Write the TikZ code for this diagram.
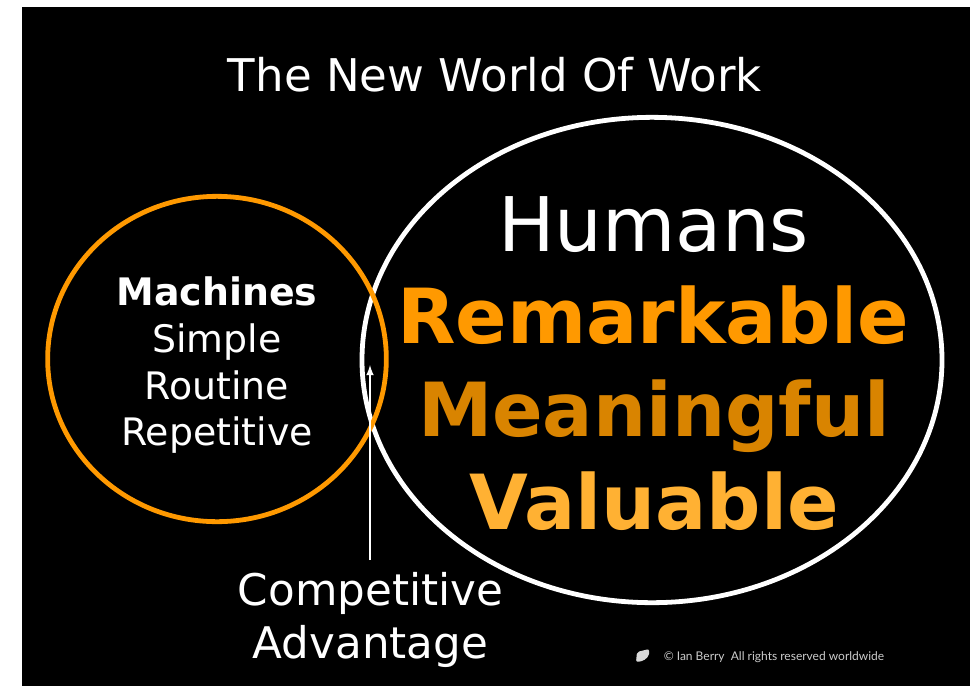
\documentclass[tikz,border=0pt]{standalone}
\usepackage{fontspec}
\setmainfont{DejaVu Sans}
\newfontfamily\noticefont{Lato}
\usetikzlibrary{shapes.geometric}
\definecolor{orangeA}{HTML}{FF9900}
\definecolor{orangeB}{HTML}{D98400}
\definecolor{orangeC}{HTML}{FFB133}
\tikzset{
	word/.style={text=white, inner sep=0pt, anchor=base},
	big/.style={font=\fontsize{57}{57}\selectfont\bfseries, inner sep=0pt, anchor=base},
	small/.style={word, font=\fontsize{28.4}{28.4}\selectfont},
	rim/.style={draw, line width=3.6pt, ellipse, inner sep=0pt, minimum width=#1}
}

\begin{document}
\begin{tikzpicture}[x=0.75pt, y=-0.75pt]
\useasboundingbox (0,0) rectangle (970,686);
\fill[white] (0,0) rectangle (970,686);
\fill[black] (22,7) rectangle (970,686);

\node[word, font=\fontsize{33.8}{33.8}\selectfont] (title) at (495,91) {The New World Of Work};

\node[rim=435pt, color=white, minimum height=364pt] (humans) at (652,360) {};
\node[rim=254pt, color=orangeA, minimum height=244pt] (machines) at (217,359) {};

\node[word, font=\fontsize{56.5}{56.5}\selectfont] (humanstxt) at (653.5,251) {Humans};
\node[big, text=orangeA] (remarkable) at (653,343) {Remarkable};
\node[big, text=orangeB, font=\fontsize{56}{56}\selectfont\bfseries] (meaningful) at (654,436) {Meaningful};
\node[big, text=orangeC] (valuable) at (654,529) {Valuable};

\node[small, font=\fontsize{28.4}{28.4}\selectfont\bfseries] (head) at (217,305) {Machines};
\node[small] (simple) at (217,352) {Simple};
\node[small] (routine) at (217,399) {Routine};
\node[small] (repetitive) at (217,445) {Repetitive};

\node[word, font=\fontsize{32.7}{32.7}\selectfont] (competitive) at (370.5,605) {Competitive};
\node[word, font=\fontsize{32.7}{32.7}\selectfont] (advantage) at (370.5,658) {Advantage};
\coordinate (tip) at (370,365);
\draw[white, line width=1.6pt, -latex] (370,560) -- (tip);

\node[word, font=\noticefont\fontsize{9}{9}\selectfont, text=white!80!black] (rights) at (774,660) {© Ian Berry\ \ All rights reserved worldwide};
\fill[white!85!black, rounded corners=1.5pt] (637,652) -- (649,649) -- (649,656) -- (643,661) -- (636,662) -- cycle;
\end{tikzpicture}
\end{document}
